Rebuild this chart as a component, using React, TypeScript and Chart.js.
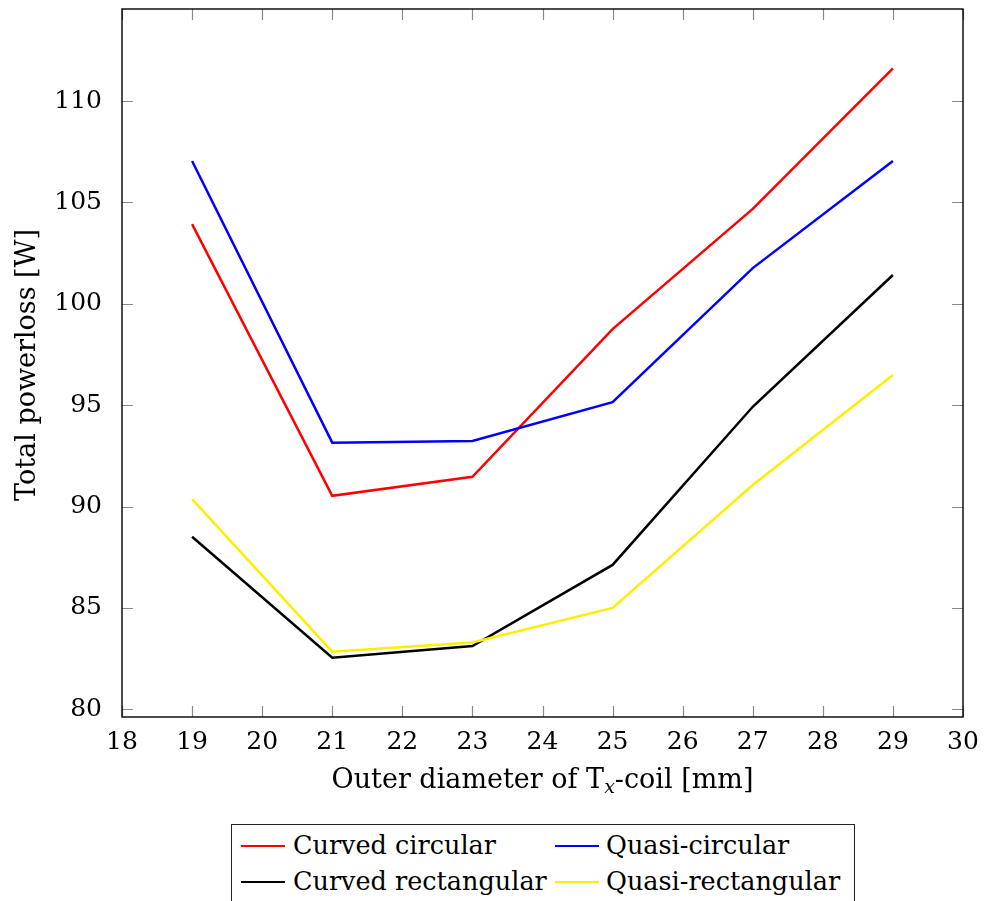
import React, { useEffect, useRef } from "react";
import { Chart, registerables } from "chart.js";

Chart.register(...registerables);

const diameters = [19, 21, 23, 25, 27, 29];
const curvedCircular = [103.93, 90.53, 91.47, 98.75, 104.68, 111.61];
const quasiCircular = [107.04, 93.15, 93.23, 95.15, 101.76, 107.04];
const curvedRectangular = [88.51, 82.54, 83.12, 87.12, 94.92, 101.42];
const quasiRectangular = [90.37, 82.84, 83.3, 85.0, 91.06, 96.49];

const seriesNames = ["Curved circular", "Quasi-circular", "Curved rectangular", "Quasi-rectangular"];
const seriesColors = ["#ff0000", "#0000ff", "#000000", "#ffee00"];
const seriesValues = [curvedCircular, quasiCircular, curvedRectangular, quasiRectangular];

const xTicks = [18, 19, 20, 21, 22, 23, 24, 25, 26, 27, 28, 29, 30];
const yTicks = [80, 85, 90, 95, 100, 105, 110];
const xMin = 18;
const xMax = 30;
const yMin = 79.62;
const yMax = 114.54;

const FONT = "'DejaVu Serif', serif";

const framePlugin = {
  id: "framePlugin",
  afterDatasetsDraw(chart: any) {
    const { ctx, chartArea: a, scales } = chart;
    const xs = scales.x;
    const ys = scales.y;
    ctx.save();
    ctx.strokeStyle = "#8a8a8a";
    ctx.lineWidth = 1.2;
    const tl = 11;
    ctx.beginPath();
    for (const v of xTicks) {
      const px = Math.round(xs.getPixelForValue(v)) + 0.5;
      ctx.moveTo(px, a.bottom);
      ctx.lineTo(px, a.bottom - tl);
      ctx.moveTo(px, a.top);
      ctx.lineTo(px, a.top + tl);
    }
    for (const v of yTicks) {
      const py = Math.round(ys.getPixelForValue(v)) + 0.5;
      ctx.moveTo(a.left, py);
      ctx.lineTo(a.left + tl, py);
      ctx.moveTo(a.right, py);
      ctx.lineTo(a.right - tl, py);
    }
    ctx.stroke();
    ctx.strokeStyle = "#000";
    ctx.lineWidth = 1.4;
    ctx.strokeRect(a.left, a.top, a.right - a.left, a.bottom - a.top);

    // x axis title with subscript
    ctx.fillStyle = "#000";
    ctx.textBaseline = "alphabetic";
    ctx.textAlign = "left";
    const mainFont = `27px ${FONT}`;
    const subFont = `italic 19px ${FONT}`;
    const p1 = "Outer diameter of T";
    const sub = "x";
    const p2 = "-coil [mm]";
    ctx.font = mainFont;
    const w1 = ctx.measureText(p1).width;
    const w3 = ctx.measureText(p2).width;
    ctx.font = subFont;
    const w2 = ctx.measureText(sub).width;
    const total = w1 + w2 + w3;
    const x0 = (a.left + a.right) / 2 - total / 2;
    const base = 788;
    ctx.font = mainFont;
    ctx.fillText(p1, x0, base);
    ctx.font = subFont;
    ctx.fillText(sub, x0 + w1, base + 5);
    ctx.font = mainFont;
    ctx.fillText(p2, x0 + w1 + w2, base);

    // y axis title
    ctx.save();
    ctx.translate(35, 365);
    ctx.rotate(-Math.PI / 2);
    ctx.textAlign = "center";
    ctx.font = mainFont;
    ctx.fillText("Total powerloss [W]", 0, 0);
    ctx.restore();
    ctx.restore();
  },
};

export default function App() {
  const ref = useRef<HTMLCanvasElement | null>(null);

  useEffect(() => {
    if (!ref.current) return;
    const chart = new Chart(ref.current, {
      type: "line",
      data: {
        datasets: seriesValues.map((vals, i) => ({
          label: seriesNames[i],
          data: diameters.map((d, j) => ({ x: d, y: vals[j] })),
          borderColor: seriesColors[i],
          backgroundColor: seriesColors[i],
          borderWidth: 2.5,
          pointRadius: 0,
          tension: 0,
          fill: false,
          order: 4 - i,
        })),
      },
      options: {
        responsive: false,
        animation: false,
        devicePixelRatio: 1,
        layout: { padding: { left: 0, right: 21, top: 9, bottom: 0 } },
        plugins: { legend: { display: false }, tooltip: { enabled: false } },
        scales: {
          x: {
            type: "linear",
            min: xMin,
            max: xMax,
            afterBuildTicks: (axis: any) => {
              axis.ticks = xTicks.map((v) => ({ value: v }));
            },
            afterFit: (s: any) => {
              s.height = 93;
              s.paddingLeft = 0;
              s.paddingRight = 0;
            },
            ticks: {
              autoSkip: false,
              maxRotation: 0,
              padding: 2,
              color: "#000",
              font: { family: FONT, size: 25 },
            },
            grid: { display: false },
            border: { display: false },
          },
          y: {
            type: "linear",
            min: yMin,
            max: yMax,
            afterBuildTicks: (axis: any) => {
              axis.ticks = yTicks.map((v) => ({ value: v }));
            },
            afterFit: (s: any) => {
              s.width = 122;
              s.paddingTop = 0;
              s.paddingBottom = 0;
            },
            ticks: {
              autoSkip: false,
              padding: 12,
              color: "#000",
              font: { family: FONT, size: 25 },
            },
            grid: { display: false },
            border: { display: false },
          },
        },
      },
      plugins: [framePlugin],
    } as any);
    return () => chart.destroy();
  }, []);

  const rowCenters = [21, 57];
  const colSample = [9, 323];
  const colText = [61, 374];

  return (
    <div
      style={{
        position: "fixed",
        left: 0,
        top: 0,
        width: 984,
        height: 901,
        overflow: "hidden",
        background: "#fff",
      }}
    >
      <canvas
        ref={ref}
        width={984}
        height={810}
        style={{ position: "absolute", left: 0, top: 0, width: 984, height: 810 }}
      />
      <div
        style={{
          position: "absolute",
          left: 231,
          top: 824,
          width: 624,
          height: 90,
          border: "1px solid #222",
          boxSizing: "border-box",
          fontFamily: FONT,
          fontSize: 25.5,
          color: "#000",
        }}
      >
        {seriesNames.map((name, i) => {
          const r = Math.floor(i / 2);
          const c = i % 2;
          return (
            <React.Fragment key={name}>
              <div
                style={{
                  position: "absolute",
                  left: colSample[c],
                  top: rowCenters[r] - 1.25,
                  width: 44,
                  height: 2.5,
                  background: seriesColors[i],
                }}
              />
              <span
                style={{
                  position: "absolute",
                  left: colText[c],
                  top: rowCenters[r] - 16,
                  lineHeight: "30px",
                  whiteSpace: "nowrap",
                }}
              >
                {name}
              </span>
            </React.Fragment>
          );
        })}
      </div>
    </div>
  );
}
